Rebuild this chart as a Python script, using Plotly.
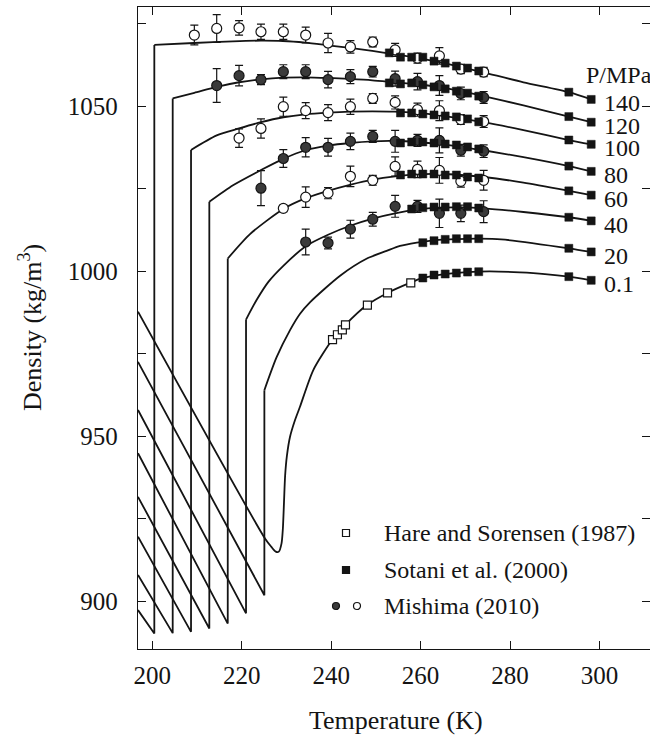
import plotly.graph_objects as go

# ---------------------------------------------------------------- data
PRESSURE_LABELS = ["140", "120", "100", "80", "60", "40", "20", "0.1"]

# Low-temperature branch of the isobars 140 ... 20 MPa: a straight segment
# coming in from the left frame, then a vertical drop up to the liquid curve.
BRANCH_T_LEFT = 196.8
BRANCH_RHO_LEFT = [897.3, 907.9, 919.5, 931.6, 944.8, 957.9, 972.5]
BRANCH_T_DROP = [200.45, 204.56, 208.66, 212.75, 216.87, 220.96, 225.06]
BRANCH_RHO_BOTTOM = [890.2, 890.3, 890.7, 891.7, 893.2, 896.3, 901.8]

# Liquid-density isobars (model curves), temperature in K, density in kg/m3
CURVE_140_T = [200.45, 209.3, 218.0, 224.3, 229.2, 234.2, 239.3, 244.2, 249.2,
               254.1, 259.3, 264.2, 269.0, 274.0, 283.0, 293.15, 298.15]
CURVE_140_RHO = [1068.5, 1069.1, 1069.6, 1069.8, 1069.7, 1069.2, 1068.4, 1067.6,
                 1066.7, 1065.7, 1064.6, 1063.3, 1061.8, 1060.2, 1057.2, 1054.2, 1052.0]

CURVE_120_T = [204.56, 209.4, 214.4, 219.4, 224.3, 229.3, 234.2, 239.3, 244.2,
               249.2, 254.1, 259.15, 264.1, 269.0, 274.05, 283.0, 293.15, 298.15]
CURVE_120_RHO = [1052.3, 1054.0, 1055.8, 1057.2, 1058.1, 1058.6, 1058.7, 1058.5,
                 1058.2, 1057.8, 1057.2, 1056.6, 1055.7, 1054.5, 1053.0, 1050.2,
                 1046.8, 1045.1]

CURVE_100_T = [208.66, 214.4, 219.4, 224.3, 229.3, 234.2, 239.3, 244.2, 249.2,
               254.1, 259.15, 264.1, 269.0, 274.05, 283.0, 293.15, 298.15]
CURVE_100_RHO = [1036.7, 1041.1, 1043.2, 1045.1, 1046.6, 1047.5, 1048.0, 1048.3,
                 1048.4, 1048.3, 1047.9, 1047.2, 1046.2, 1045.1, 1042.7, 1039.7, 1038.4]

CURVE_80_T = [212.75, 218.05, 224.3, 229.3, 234.2, 239.3, 244.2, 249.2, 254.3,
              259.15, 264.1, 269.0, 274.05, 283.0, 293.15, 298.15]
CURVE_80_RHO = [1021.0, 1026.0, 1030.6, 1034.0, 1036.6, 1038.0, 1038.8, 1039.3,
                1039.4, 1039.1, 1038.5, 1037.6, 1036.6, 1034.5, 1031.8, 1030.2]

CURVE_60_T = [216.87, 221.85, 229.3, 234.2, 239.3, 244.4, 249.3, 254.3, 259.15,
              264.1, 269.0, 274.2, 283.0, 293.15, 298.15]
CURVE_60_RHO = [1003.8, 1011.2, 1018.8, 1022.0, 1024.3, 1026.2, 1027.7, 1028.7,
                1029.3, 1029.4, 1029.1, 1028.5, 1026.8, 1024.3, 1023.0]

CURVE_40_T = [220.96, 223.35, 226.0, 229.3, 234.4, 239.3, 244.4, 249.3, 254.3,
              259.15, 264.1, 269.0, 274.2, 283.0, 293.15, 298.15]
CURVE_40_RHO = [985.3, 991.3, 996.8, 1001.6, 1007.6, 1011.0, 1013.8, 1015.9,
                1017.5, 1018.6, 1019.2, 1019.3, 1019.0, 1017.9, 1016.3, 1015.2]

CURVE_20_T = [225.06, 227.8, 230.8, 233.0, 235.3, 242.0, 248.0, 252.4, 255.4,
              259.15, 263.25, 268.1, 272.9, 278.0, 293.15, 298.15]
CURVE_20_RHO = [963.9, 973.9, 982.1, 987.0, 990.6, 998.6, 1003.8, 1006.1, 1007.6,
                1008.6, 1009.4, 1009.7, 1009.8, 1009.6, 1006.9, 1005.8]

# The 0.1 MPa isobar is one smooth path including its low-temperature branch
CURVE_01_T = [196.8, 225.2, 226.6, 227.6, 228.3, 228.9, 229.2, 229.45, 229.7,
              230.1, 230.8, 231.9, 233.0, 236.0, 240.2, 243.1, 248.0, 252.5,
              257.6, 260.5, 265.4, 270.4, 275.5, 282.2, 287.8, 293.15, 298.15]
CURVE_01_RHO = [987.7, 919.0, 916.5, 915.0, 915.0, 917.5, 922.0, 930.0, 938.0,
                944.0, 949.8, 954.8, 958.8, 970.0, 979.1, 983.6, 989.7, 993.3,
                996.4, 997.9, 999.1, 999.7, 999.9, 999.6, 999.1, 998.3, 997.2]

# Hare and Sorensen (1987), 0.1 MPa
HARE_T = [240.3, 241.4, 242.5, 243.2, 248.1, 252.6, 257.8]
HARE_RHO = [979.2, 980.7, 982.2, 983.7, 989.7, 993.4, 996.4]

# Sotani et al. (2000)
SOTANI_T_140 = [253, 255.5, 258, 260.5, 263, 265.5, 268, 270.5, 273, 293.15, 298.15]
SOTANI_RHO_140 = [1066.1, 1064.8, 1064.8, 1064.8, 1063.6, 1063.0, 1062.1, 1061.5,
                  1060.6, 1054.2, 1052.0]
SOTANI_T_120 = [253, 255.5, 258, 260.5, 263, 265.5, 268, 270.5, 273, 293.15, 298.15]
SOTANI_RHO_120 = [1057.0, 1056.7, 1057.0, 1056.4, 1055.8, 1055.2, 1054.5, 1053.9,
                  1053.0, 1046.8, 1045.1]
SOTANI_T_100 = [255.5, 258, 260.5, 263, 265.5, 268, 270.5, 273, 293.15, 298.15]
SOTANI_RHO_100 = [1047.9, 1047.9, 1047.6, 1047.3, 1047.0, 1046.7, 1046.1, 1045.2,
                  1039.7, 1038.4]
SOTANI_T_80 = [255.5, 258, 260.5, 263, 265.5, 268, 270.5, 273, 293.15, 298.15]
SOTANI_RHO_80 = [1038.8, 1039.1, 1039.1, 1038.8, 1038.5, 1038.2, 1037.6, 1037.0,
                 1031.8, 1030.2]
SOTANI_T_60 = [255.5, 258, 260.5, 263, 265.5, 268, 270.5, 273, 293.15, 298.15]
SOTANI_RHO_60 = [1029.1, 1029.4, 1029.4, 1029.4, 1029.1, 1029.1, 1028.5, 1028.2,
                 1024.3, 1023.0]
SOTANI_T_40 = [258, 260.5, 263, 265.5, 268, 270.5, 273, 293.15, 298.15]
SOTANI_RHO_40 = [1018.8, 1019.2, 1019.4, 1019.4, 1019.5, 1019.5, 1019.1, 1016.3, 1015.2]
SOTANI_T_20 = [260.5, 263, 265.5, 268, 270.5, 273, 293.15, 298.15]
SOTANI_RHO_20 = [1008.6, 1009.2, 1009.6, 1009.8, 1009.8, 1009.8, 1006.9, 1005.8]
SOTANI_T_01 = [260.5, 263, 265.5, 268, 270.5, 273, 293.15, 298.15]
SOTANI_RHO_01 = [997.9, 998.8, 999.1, 999.4, 999.7, 999.8, 998.3, 997.2]

# Mishima (2010): common temperature grid, each isobar uses its last N points
MISHIMA_T = [209.4, 214.4, 219.4, 224.3, 229.3, 234.3, 239.3, 244.3, 249.3,
             254.3, 259.3, 264.2, 269.0, 274.1]
MISHIMA_RHO_140 = [1071.5, 1073.5, 1073.7, 1072.5, 1072.5, 1071.5, 1069.1, 1067.9,
                   1069.4, 1067.0, 1064.5, 1065.2, 1061.2, 1060.3]
MISHIMA_ERR_140 = [3.0, 4.2, 2.2, 2.3, 2.3, 2.4, 2.9, 1.9, 1.5, 2.0, 1.5, 2.5, 1.4, 1.4]
MISHIMA_RHO_120 = [1056.2, 1059.2, 1058.0, 1060.4, 1060.4, 1058.0, 1058.9, 1060.4,
                   1058.3, 1057.4, 1056.2, 1053.8, 1052.6]
MISHIMA_ERR_120 = [5.1, 3.1, 1.5, 2.1, 2.1, 2.5, 2.1, 1.6, 2.3, 2.5, 3.0, 1.9, 1.8]
MISHIMA_RHO_100 = [1040.3, 1043.2, 1049.8, 1048.6, 1048.0, 1049.8, 1052.3, 1051.1,
                   1048.9, 1048.6, 1045.9, 1045.3]
MISHIMA_ERR_100 = [2.8, 2.9, 2.9, 2.4, 2.4, 2.3, 1.5, 2.0, 2.0, 3.0, 1.5, 1.8]
MISHIMA_RHO_80 = [1025.1, 1034.1, 1037.5, 1037.5, 1039.3, 1040.8, 1039.3, 1039.6,
                  1039.6, 1036.6, 1036.3]
MISHIMA_ERR_80 = [5.3, 2.7, 2.9, 2.7, 2.5, 1.8, 3.3, 1.8, 3.8, 1.8, 1.9]
MISHIMA_RHO_60 = [1019.0, 1022.4, 1023.6, 1028.7, 1027.5, 1031.7, 1030.8, 1030.5,
                  1027.2, 1027.5]
MISHIMA_ERR_60 = [1.0, 3.1, 1.7, 3.1, 1.5, 2.9, 2.5, 3.9, 1.8, 3.0]
MISHIMA_RHO_40 = [1008.8, 1008.5, 1012.7, 1015.7, 1019.6, 1019.6, 1017.5, 1017.5, 1018.0]
MISHIMA_ERR_40 = [3.9, 1.8, 2.7, 2.1, 3.3, 1.8, 4.3, 2.5, 3.3]

X_TICKS = [200, 220, 240, 260, 280, 300]
Y_TICKS = [900, 950, 1000, 1050]

# ---------------------------------------------------------------- styles
FONT = "Liberation Serif, Times New Roman, DejaVu Serif, serif"
INK = "#141414"
LINE = dict(color=INK, width=1.8)

fig = go.Figure()

curves = [
    (CURVE_140_T, CURVE_140_RHO), (CURVE_120_T, CURVE_120_RHO),
    (CURVE_100_T, CURVE_100_RHO), (CURVE_80_T, CURVE_80_RHO),
    (CURVE_60_T, CURVE_60_RHO), (CURVE_40_T, CURVE_40_RHO),
    (CURVE_20_T, CURVE_20_RHO),
]

# low-temperature branches: slanted segment + vertical drop (straight lines)
for i, (ct, crho) in enumerate(curves):
    fig.add_trace(go.Scatter(
        x=[BRANCH_T_LEFT, BRANCH_T_DROP[i], BRANCH_T_DROP[i]],
        y=[BRANCH_RHO_LEFT[i], BRANCH_RHO_BOTTOM[i], crho[0]],
        mode="lines", line=LINE, showlegend=False, hoverinfo="skip"))

# smooth liquid isobars
for ct, crho in curves + [(CURVE_01_T, CURVE_01_RHO)]:
    fig.add_trace(go.Scatter(
        x=ct, y=crho, mode="lines",
        line=dict(color=INK, width=1.8, shape="spline", smoothing=0.7),
        showlegend=False, hoverinfo="skip"))

# Mishima (2010) with error bars: filled / open alternate between isobars
mishima = [
    (MISHIMA_RHO_140, MISHIMA_ERR_140, False),
    (MISHIMA_RHO_120, MISHIMA_ERR_120, True),
    (MISHIMA_RHO_100, MISHIMA_ERR_100, False),
    (MISHIMA_RHO_80, MISHIMA_ERR_80, True),
    (MISHIMA_RHO_60, MISHIMA_ERR_60, False),
    (MISHIMA_RHO_40, MISHIMA_ERR_40, True),
]
for rho, err, filled in mishima:
    fig.add_trace(go.Scatter(
        x=MISHIMA_T[-len(rho):], y=rho, mode="markers",
        error_y=dict(type="data", array=err, visible=True,
                     color=INK, thickness=1.2, width=4),
        marker=dict(symbol="circle", size=10,
                    color="#3a3a3a" if filled else "white",
                    line=dict(color=INK, width=1.2)),
        showlegend=False, hoverinfo="skip"))

# Sotani et al. (2000)
sotani = [
    (SOTANI_T_140, SOTANI_RHO_140), (SOTANI_T_120, SOTANI_RHO_120),
    (SOTANI_T_100, SOTANI_RHO_100), (SOTANI_T_80, SOTANI_RHO_80),
    (SOTANI_T_60, SOTANI_RHO_60), (SOTANI_T_40, SOTANI_RHO_40),
    (SOTANI_T_20, SOTANI_RHO_20), (SOTANI_T_01, SOTANI_RHO_01),
]
for st, srho in sotani:
    fig.add_trace(go.Scatter(
        x=st, y=srho, mode="markers",
        marker=dict(symbol="square", size=8, color=INK,
                    line=dict(color=INK, width=0.5)),
        showlegend=False, hoverinfo="skip"))

# Hare and Sorensen (1987)
fig.add_trace(go.Scatter(
    x=HARE_T, y=HARE_RHO, mode="markers",
    marker=dict(symbol="square", size=8, color="white",
                line=dict(color=INK, width=1.2)),
    showlegend=False, hoverinfo="skip"))

# pressure labels at the warm end of each isobar
ends = [c[1][-1] for c in curves] + [CURVE_01_RHO[-1]]
annotations = []
for lab, rho_end in zip(PRESSURE_LABELS, ends):
    annotations.append(dict(
        x=CURVE_01_T[-1], y=rho_end, xref="x", yref="y", text=lab,
        showarrow=False, xanchor="left", yanchor="middle",
        xshift=11, yshift=-4, font=dict(family=FONT, size=24, color=INK)))

# plot-area geometry (pixels) used to place free text and the key
W, H = 650, 739
ML, MR, MT, MB = 138, 0, 7, 90
PW, PH = W - ML - MR, H - MT - MB


def px(x):
    return (x - ML) / PW


def py(y):
    return (H - MB - y) / PH


annotations.append(dict(
    x=px(584), y=py(75), xref="paper", yref="paper", text="P/MPa",
    showarrow=False, xanchor="left", yanchor="middle",
    font=dict(family=FONT, size=24, color=INK)))

# axis titles
annotations.append(dict(
    x=px(396), y=py(720), xref="paper", yref="paper", text="Temperature (K)",
    showarrow=False, xanchor="center", yanchor="middle",
    font=dict(family=FONT, size=26, color=INK)))
annotations.append(dict(
    x=px(30), y=py(328), xref="paper", yref="paper",
    text="Density (kg/m<sup>3</sup>)", textangle=-90,
    showarrow=False, xanchor="center", yanchor="middle",
    font=dict(family=FONT, size=26, color=INK)))

# key
KEY_TEXT = ["Hare and Sorensen (1987)", "Sotani et al. (2000)", "Mishima (2010)"]
KEY_Y = [533, 570, 606]
for txt, ky in zip(KEY_TEXT, KEY_Y):
    annotations.append(dict(
        x=px(382), y=py(ky), xref="paper", yref="paper", text=txt,
        showarrow=False, xanchor="left", yanchor="middle",
        font=dict(family=FONT, size=24, color=INK)))


def glyph(kind, cx, cy, r, fill):
    return dict(type=kind, xref="paper", yref="paper",
                xsizemode="pixel", ysizemode="pixel",
                xanchor=px(cx), yanchor=py(cy),
                x0=-r, x1=r, y0=-r, y1=r,
                fillcolor=fill, line=dict(color=INK, width=1.2))


shapes = [
    glyph("rect", 346, KEY_Y[0], 3.5, "white"),
    glyph("rect", 346, KEY_Y[1], 3.5, INK),
    glyph("circle", 336, KEY_Y[2], 3.5, "#3a3a3a"),
    glyph("circle", 357, KEY_Y[2], 3.5, "white"),
]

axis_common = dict(
    showline=True, linecolor=INK, linewidth=1.3, mirror="ticks",
    ticks="inside", ticklen=8, tickwidth=1.3, tickcolor=INK,
    showgrid=False, zeroline=False,
    tickfont=dict(family=FONT, size=25, color=INK),
)

fig.update_layout(
    width=W, height=H,
    margin=dict(l=ML, r=MR, t=MT, b=MB),
    paper_bgcolor="white", plot_bgcolor="white",
    showlegend=False,
    xaxis=dict(range=[196.8, 311.3], tickvals=X_TICKS, ticklabelstandoff=4,
               **axis_common),
    yaxis=dict(range=[885.5, 1080.0], tickvals=Y_TICKS,
               minor=dict(dtick=25, tick0=900, ticks="inside", ticklen=8,
                          tickwidth=1.3, tickcolor=INK, showgrid=False),
               ticklabelstandoff=14, **axis_common),
    annotations=annotations,
    shapes=shapes,
)

fig.write_html("out.html")
